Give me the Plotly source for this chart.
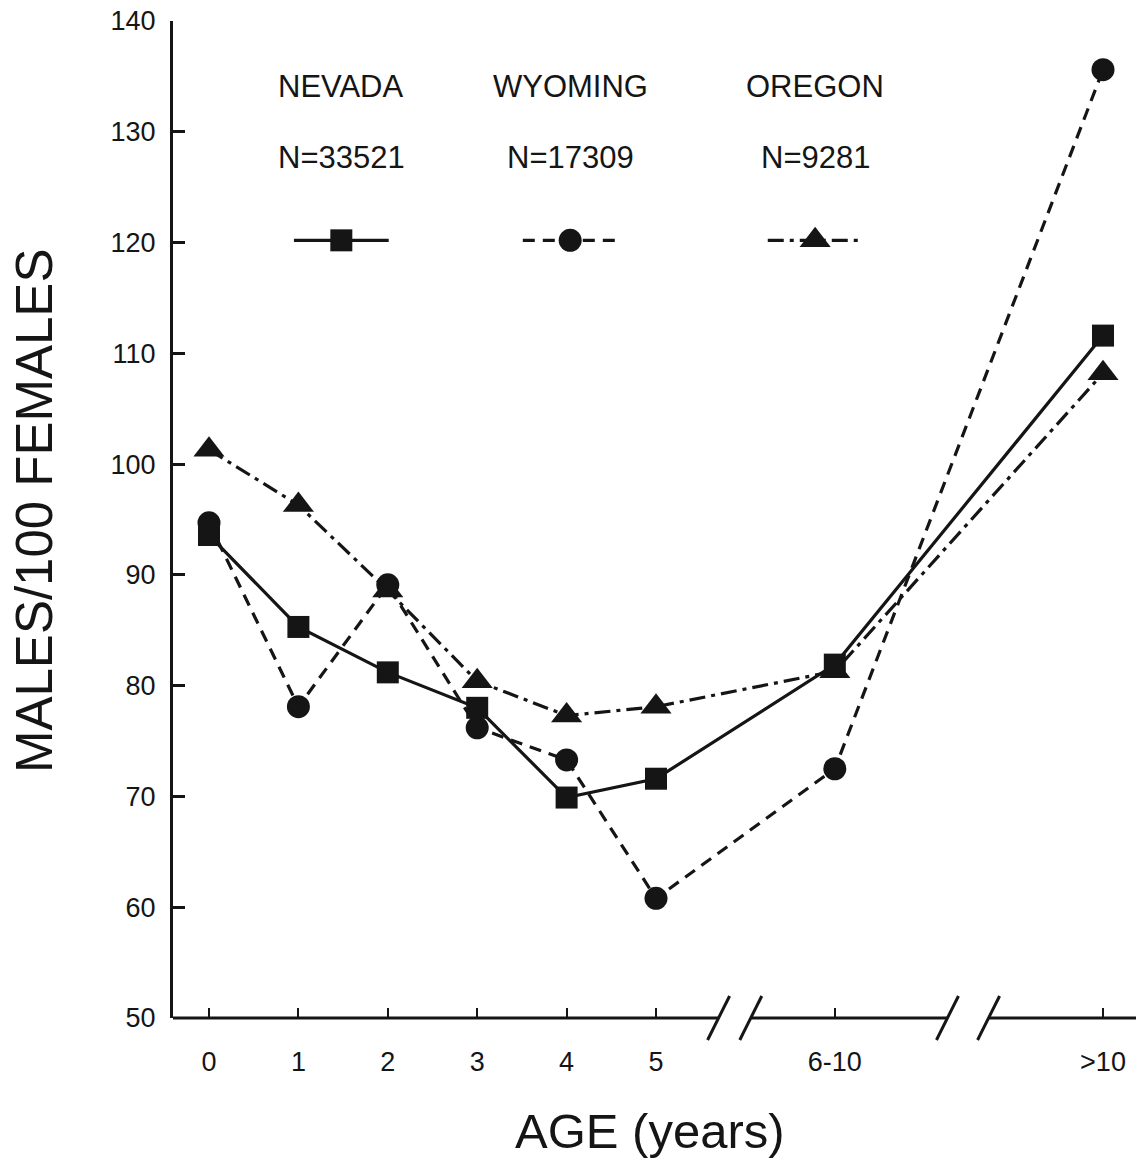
import plotly.graph_objects as go

# ---- data ----
age_labels = ["0", "1", "2", "3", "4", "5", "6-10", ">10"]
age_pos = [0, 1, 2, 3, 4, 5, 7, 10]          # plotting positions (axis is broken)
nevada = [93.6, 85.3, 81.2, 78.0, 69.9, 71.6, 81.9, 111.6]
wyoming = [94.7, 78.1, 89.1, 76.2, 73.3, 60.8, 72.5, 135.6]
oregon = [101.3, 96.3, 88.6, 80.4, 77.3, 78.1, 81.3, 108.2]
states = ["NEVADA", "WYOMING", "OREGON"]
counts = ["N=33521", "N=17309", "N=9281"]
y_ticks = [50, 60, 70, 80, 90, 100, 110, 120, 130, 140]

# ---- layout constants ----
W, H = 1136, 1159
ML, MR, MT, MB = 173, 0, 21, 141
PW, PH = W - ML - MR, H - MT - MB
XR = [-0.4027, 10.369]
YR = [50, 140]
INK = "#151515"
FONT = "Liberation Sans, Arial, Helvetica, sans-serif"


def px_x(v):
    return (v - XR[0]) / (XR[1] - XR[0])


fig = go.Figure()

styles = [
    dict(dash="solid", symbol="square", size=22),
    dict(dash="12px,8px", symbol="circle", size=23),
    dict(dash="16px,6px,4px,6px", symbol="triangle-up", size=27),
]
series = [nevada, wyoming, oregon]

for name, vals, st in zip(states, series, styles):
    fig.add_trace(go.Scatter(
        x=age_pos, y=vals, mode="lines+markers", name=name,
        line=dict(color=INK, width=3.2, dash=st["dash"]),
        marker=dict(symbol=st["symbol"], size=st["size"], color=INK),
        showlegend=False, hoverinfo="skip", cliponaxis=False,
    ))

# ---- key (legend drawn manually: name, N, sample line) ----
key_centers = [1.48, 4.04, 6.78]
key_half = 0.53
key_y = 120.2
for cx, name, n, st in zip(key_centers, states, counts, styles):
    fig.add_trace(go.Scatter(
        x=[cx - key_half, cx + key_half], y=[key_y, key_y], mode="lines",
        line=dict(color=INK, width=3.2, dash=st["dash"]),
        showlegend=False, hoverinfo="skip",
    ))
    fig.add_trace(go.Scatter(
        x=[cx], y=[key_y], mode="markers",
        marker=dict(symbol=st["symbol"], size=st["size"], color=INK),
        showlegend=False, hoverinfo="skip",
    ))
    fig.add_annotation(x=cx, y=134.1, xref="x", yref="y", text=name,
                       showarrow=False, font=dict(size=31, color=INK, family=FONT))
    fig.add_annotation(x=cx, y=127.7, xref="x", yref="y", text=n,
                       showarrow=False, font=dict(size=31, color=INK, family=FONT))

# ---- broken x axis line ----
breaks = [(5.70, 6.06), (8.26, 8.72)]
seg_edges = [XR[0]] + [b for pair in breaks for b in pair] + [XR[1]]
shapes = []
for i in range(0, len(seg_edges), 2):
    shapes.append(dict(type="line", xref="paper", yref="paper",
                       x0=px_x(seg_edges[i]), x1=px_x(seg_edges[i + 1]), y0=0, y1=0,
                       line=dict(color=INK, width=3)))
hx, hy = 11 / PW, 22 / PH
for pair in breaks:
    for b in pair:
        shapes.append(dict(type="line", xref="paper", yref="paper",
                           x0=px_x(b) - hx, x1=px_x(b) + hx, y0=-hy, y1=hy,
                           line=dict(color=INK, width=3)))

fig.update_layout(
    width=W, height=H,
    margin=dict(l=ML, r=MR, t=MT, b=MB, pad=0, autoexpand=False),
    plot_bgcolor="white", paper_bgcolor="white",
    font=dict(family=FONT, color=INK),
    shapes=shapes,
    xaxis=dict(range=XR, tickmode="array", tickvals=age_pos, ticktext=age_labels,
               showgrid=False, zeroline=False, showline=False, automargin=False,
               ticks="inside", ticklen=10, tickwidth=2, tickcolor=INK,
               tickfont=dict(size=27, color=INK, family=FONT),
               ticklabelstandoff=25),
    yaxis=dict(range=YR, tickmode="array", tickvals=y_ticks, automargin=False,
               showgrid=False, zeroline=False, showline=True, linewidth=3,
               linecolor=INK, ticks="inside", ticklen=12, tickwidth=3, tickcolor=INK,
               tickfont=dict(size=27, color=INK, family=FONT),
               ticklabelstandoff=9),
)

fig.add_annotation(x=(35 - ML) / PW, y=(1018 - 511) / PH, xref="paper", yref="paper",
                   text="MALES/100 FEMALES", textangle=-90, showarrow=False,
                   xanchor="center", yanchor="middle",
                   font=dict(size=51, color=INK, family=FONT))
fig.add_annotation(x=(650 - ML) / PW, y=-(1131 - 1018) / PH, xref="paper", yref="paper",
                   text="AGE (years)", showarrow=False,
                   xanchor="center", yanchor="middle",
                   font=dict(size=49, color=INK, family=FONT))

fig.write_html("out.html",
               config={"displayModeBar": False},
               post_script="document.body.style.margin='0';document.body.style.padding='0';")
